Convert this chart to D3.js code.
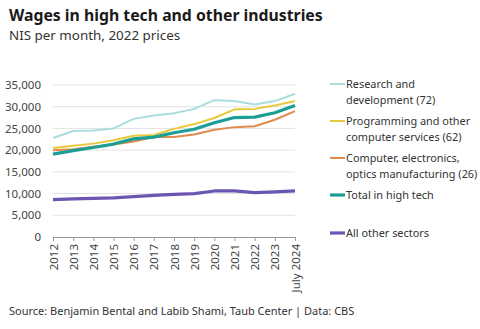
<!DOCTYPE html>
<html>
<head>
<meta charset="utf-8">
<script src="https://cdn.jsdelivr.net/npm/d3@7"></script>
<style>
  body { margin: 0; background: #fff; font-family: "Noto Sans", "Open Sans", sans-serif; }
  .axis text { fill: #444; font-size: 11.5px; font-family: "Noto Sans", sans-serif; }
</style>
</head>
<body>
<div id="chart"></div>
<script>
const years = ['2012', '2013', '2014', '2015', '2016', '2017', '2018', '2019', '2020', '2021', '2022', '2023', 'July 2024'];
const rnd = [22800, 24400, 24500, 25000, 27200, 28000, 28500, 29500, 31500, 31300, 30500, 31300, 33000];
const programming = [20500, 21000, 21500, 22300, 23300, 23500, 24900, 26000, 27400, 29400, 29500, 30300, 31300];
const manufacturing = [20000, 20200, 20800, 21300, 22000, 23000, 23000, 23600, 24700, 25300, 25500, 27000, 29000];
const totalHighTech = [19100, 19900, 20600, 21400, 22600, 23000, 24000, 24800, 26300, 27500, 27600, 28600, 30300];
const otherSectors = [8600, 8800, 8900, 9000, 9300, 9600, 9800, 10000, 10600, 10600, 10200, 10400, 10600];
const yTicks = [0, 5000, 10000, 15000, 20000, 25000, 30000, 35000];

const series = [
    {name: ['Research and', 'development (72)'], values: rnd, color: '#a9dde0', w: 2},
    {name: ['Programming and other', 'computer services (62)'], values: programming, color: '#e9c93b', w: 2},
    {name: ['Computer, electronics,', 'optics manufacturing (26)'], values: manufacturing, color: '#e18b4c', w: 2},
    {name: ['Total in high tech'], values: totalHighTech, color: '#1c9e97', w: 3.2},
    {name: ['All other sectors'], values: otherSectors, color: '#6b56b2', w: 3.2}
];
const legendY = [84, 121, 158, 195, 233];

const width = 480, height = 329;
const svg = d3.select('#chart').append('svg')
    .attr('width', width)
    .attr('height', height);

// Titles
svg.append('text')
    .attr('x', 9).attr('y', 21)
    .attr('font-size', '15.8px').attr('font-weight', 'bold').attr('fill', '#1a1a1a')
    .text('Wages in high tech and other industries');
svg.append('text')
    .attr('x', 9).attr('y', 40)
    .attr('font-size', '13.4px').attr('fill', '#333')
    .text('NIS per month, 2022 prices');

const x = d3.scalePoint().domain(years).range([53, 295]);
const y = d3.scaleLinear().domain([0, 35000]).range([237, 85]);

// Gridlines
svg.append('g')
    .selectAll('line')
    .data(yTicks.filter(d => d > 0))
    .enter().append('line')
    .attr('x1', 53).attr('x2', 295)
    .attr('y1', d => y(d)).attr('y2', d => y(d))
    .attr('stroke', '#e2e2e2').attr('stroke-width', 1);

// Y axis
const yAxis = svg.append('g')
    .attr('class', 'axis')
    .attr('transform', 'translate(53,0)')
    .call(d3.axisLeft(y).tickValues(yTicks).tickSize(0).tickPadding(12).tickFormat(d3.format(',')));
yAxis.select('.domain').remove();

// X axis
const xAxis = svg.append('g')
    .attr('class', 'axis')
    .attr('transform', 'translate(0,237)')
    .call(d3.axisBottom(x).tickSize(4).tickSizeOuter(0));
xAxis.select('.domain').attr('stroke', '#999');
xAxis.selectAll('line').attr('stroke', '#999');
xAxis.selectAll('text')
    .attr('transform', 'rotate(-90)')
    .attr('text-anchor', 'end')
    .attr('y', 0)
    .attr('x', -7)
    .attr('dy', '0.35em');

// Lines
const line = d3.line()
    .x((d, i) => x(years[i]))
    .y(d => y(d));

svg.append('g')
    .selectAll('path')
    .data(series)
    .enter().append('path')
    .attr('d', d => line(d.values))
    .attr('fill', 'none')
    .attr('stroke', d => d.color)
    .attr('stroke-width', d => d.w)
    .attr('stroke-linejoin', 'round');

// Legend
const leg = svg.append('g')
    .selectAll('g')
    .data(series)
    .enter().append('g')
    .attr('transform', (d, i) => `translate(330,${legendY[i]})`);
leg.append('line')
    .attr('x1', 0).attr('x2', 15)
    .attr('stroke', d => d.color)
    .attr('stroke-width', d => d.w);
leg.append('text')
    .attr('font-size', '10.9px')
    .attr('fill', '#333')
    .selectAll('tspan')
    .data(d => d.name)
    .enter().append('tspan')
    .attr('x', 16)
    .attr('y', (d, i) => 4 + i * 16)
    .text(d => d);

// Source
svg.append('text')
    .attr('x', 9).attr('y', 315)
    .attr('font-size', '11px').attr('fill', '#333')
    .text('Source: Benjamin Bental and Labib Shami, Taub Center | Data: CBS');
</script>
</body>
</html>
